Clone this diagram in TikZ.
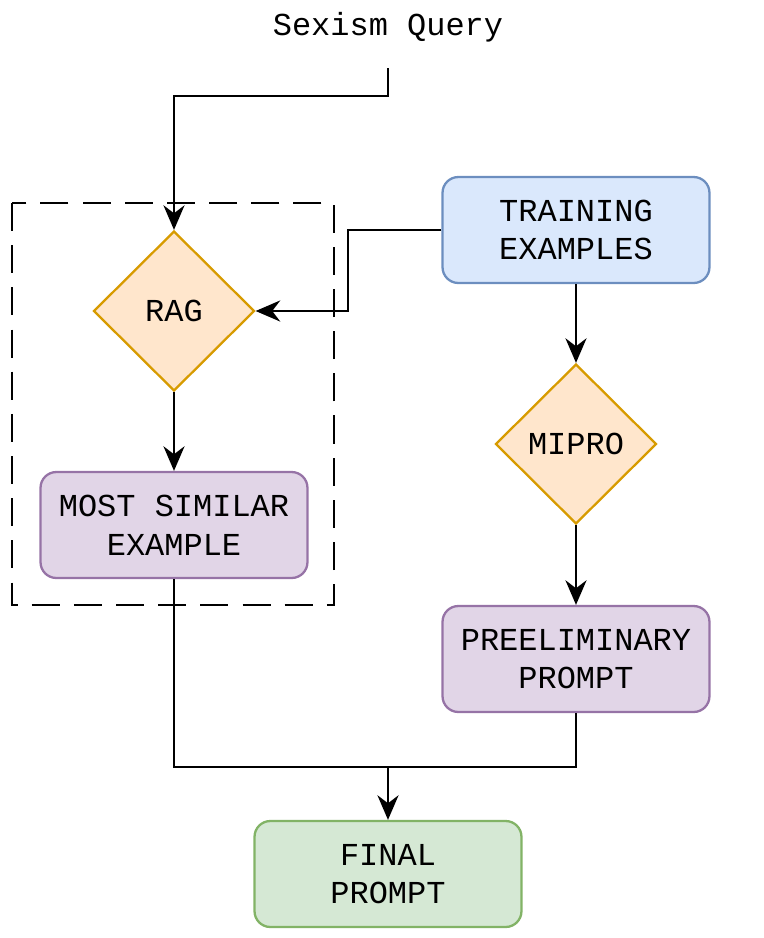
\documentclass[tikz,border=0pt]{standalone}
\usepackage{fontspec}
\setmainfont{Liberation Mono}
\usetikzlibrary{shapes.geometric,arrows.meta}
\definecolor{orfill}{HTML}{FFE6CC}\definecolor{ordraw}{HTML}{D79B00}
\definecolor{blfill}{HTML}{DAE8FC}\definecolor{bldraw}{HTML}{6C8EBF}
\definecolor{pufill}{HTML}{E1D5E7}\definecolor{pudraw}{HTML}{9673A6}
\definecolor{grfill}{HTML}{D5E8D4}\definecolor{grdraw}{HTML}{82B366}
\tikzset{
  box/.style={draw, rounded corners=9pt, line width=1.3pt, minimum width=5.34cm, minimum height=2.12cm, align=center, font=\fontsize{18.2}{22}\selectfont},
  choice/.style={diamond, draw=ordraw, fill=orfill, line width=1.3pt, minimum width=3.22cm, minimum height=3.2cm, inner sep=0pt, font=\fontsize{18.2}{22}\selectfont},
  flow/.style={line width=1.3pt, -{Stealth[length=14pt,width=12pt]}},
}
\begin{document}
\begin{tikzpicture}[x=0.02cm,y=-0.02cm]
\useasboundingbox (0,0) rectangle (764,938);
\node (query) at (388,27) {\fontsize{18.2}{22}\selectfont Sexism Query};
\coordinate (qend) at (388,68);
\draw[dash pattern=on 16pt off 8pt, line width=1.3pt] (12,203) rectangle (334,605);
\node[choice] (rag) at (174,311) {RAG};
\node[box, draw=bldraw, fill=blfill] (train) at (576,230) {TRAINING\\EXAMPLES};
\node[choice] (mipro) at (576,444) {MIPRO};
\node[box, draw=pudraw, fill=pufill] (similar) at (174,525) {MOST SIMILAR\\EXAMPLE};
\node[box, draw=pudraw, fill=pufill] (prelim) at (576,659) {PREELIMINARY\\PROMPT};
\node[box, draw=grdraw, fill=grfill] (final) at (388,874) {FINAL \\PROMPT};

\draw[flow] (qend) |- (174,96) -- (rag.north);
\draw[flow] (train.west) -| (348,311) -- (rag.east);
\draw[flow] (train) -- (mipro);
\draw[flow] (mipro) -- (prelim);
\draw[flow] (rag) -- (similar);
\draw[line width=1.3pt] (similar.south) |- (388,767);
\draw[line width=1.3pt] (prelim.south) |- (388,767);
\draw[flow] (388,767) -- (final.north);
\end{tikzpicture}
\end{document}
